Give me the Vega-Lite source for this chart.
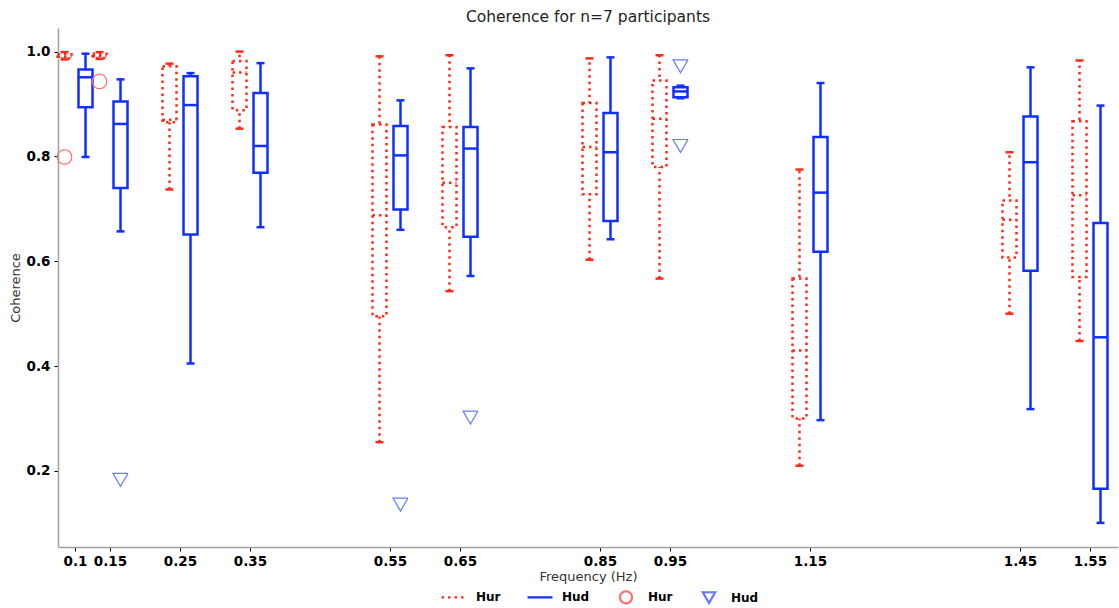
{
  "$schema": "https://vega.github.io/schema/vega-lite/v6.json",
  "width": 1060,
  "height": 519,
  "autosize": {"type": "none"},
  "padding": {"left": 58, "top": 28, "right": 1, "bottom": 61},
  "title": {"text": "Coherence for n=7 participants", "fontSize": 15.5, "font": "DejaVu Sans", "fontWeight": "normal", "color": "#222222", "offset": 3},
  "config": {
    "view": {"stroke": null},
    "font": "DejaVu Sans",
    "axisX": {"labelFontWeight": "bold", "labelFontSize": 13.5, "labelColor": "#000000", "tickColor": "#000000", "tickSize": 4, "domainColor": "#a0a0a0", "domainWidth": 1.5, "grid": false, "titleFontWeight": "normal", "titleFontSize": 13, "titleColor": "#333333", "labelPadding": 3, "titlePadding": 3, "labelOverlap": false, "labelFlush": false},
    "axisY": {"labelFontWeight": "bold", "labelFontSize": 13.5, "labelColor": "#000000", "tickColor": "#000000", "tickSize": 4, "domainColor": "#a0a0a0", "domainWidth": 1.5, "grid": false, "titleFontWeight": "normal", "titleFontSize": 13, "titleColor": "#333333", "labelPadding": 4, "titlePadding": 4, "labelOverlap": false, "labelFlush": false},
    "legend": {"orient": "none", "legendX": 382, "legendY": 555, "direction": "horizontal", "symbolSize": 625, "symbolStrokeWidth": 2.2, "labelFont": "DejaVu Sans", "labelFontWeight": "bold", "labelFontSize": 12, "labelColor": "#000000", "labelOffset": 8, "columnPadding": 22, "padding": 0, "title": null}
  },
  "datasets": {
    "boxes": [
      {"freq": 0.1, "group": "Hur", "lower": 0.985, "q1": 0.987, "median": 0.990, "q3": 0.995, "upper": 0.999},
      {"freq": 0.1, "group": "Hud", "lower": 0.799, "q1": 0.894, "median": 0.951, "q3": 0.966, "upper": 0.996},
      {"freq": 0.15, "group": "Hur", "lower": 0.986, "q1": 0.988, "median": 0.991, "q3": 0.996, "upper": 0.999},
      {"freq": 0.15, "group": "Hud", "lower": 0.657, "q1": 0.740, "median": 0.862, "q3": 0.905, "upper": 0.947},
      {"freq": 0.25, "group": "Hur", "lower": 0.737, "q1": 0.865, "median": 0.870, "q3": 0.972, "upper": 0.977},
      {"freq": 0.25, "group": "Hud", "lower": 0.405, "q1": 0.651, "median": 0.898, "q3": 0.953, "upper": 0.959},
      {"freq": 0.35, "group": "Hur", "lower": 0.853, "q1": 0.888, "median": 0.960, "q3": 0.982, "upper": 1.0},
      {"freq": 0.35, "group": "Hud", "lower": 0.665, "q1": 0.769, "median": 0.820, "q3": 0.921, "upper": 0.978},
      {"freq": 0.55, "group": "Hur", "lower": 0.255, "q1": 0.495, "median": 0.688, "q3": 0.861, "upper": 0.991},
      {"freq": 0.55, "group": "Hud", "lower": 0.660, "q1": 0.699, "median": 0.802, "q3": 0.858, "upper": 0.907},
      {"freq": 0.65, "group": "Hur", "lower": 0.543, "q1": 0.665, "median": 0.750, "q3": 0.856, "upper": 0.993},
      {"freq": 0.65, "group": "Hud", "lower": 0.572, "q1": 0.647, "median": 0.815, "q3": 0.856, "upper": 0.968},
      {"freq": 0.85, "group": "Hur", "lower": 0.603, "q1": 0.728, "median": 0.818, "q3": 0.902, "upper": 0.987},
      {"freq": 0.85, "group": "Hud", "lower": 0.642, "q1": 0.677, "median": 0.808, "q3": 0.883, "upper": 0.989},
      {"freq": 0.95, "group": "Hur", "lower": 0.567, "q1": 0.780, "median": 0.872, "q3": 0.945, "upper": 0.993},
      {"freq": 0.95, "group": "Hud", "lower": 0.911, "q1": 0.913, "median": 0.924, "q3": 0.932, "upper": 0.935},
      {"freq": 1.15, "group": "Hur", "lower": 0.210, "q1": 0.300, "median": 0.430, "q3": 0.567, "upper": 0.775},
      {"freq": 1.15, "group": "Hud", "lower": 0.297, "q1": 0.618, "median": 0.731, "q3": 0.837, "upper": 0.940},
      {"freq": 1.45, "group": "Hur", "lower": 0.500, "q1": 0.607, "median": 0.679, "q3": 0.716, "upper": 0.808},
      {"freq": 1.45, "group": "Hud", "lower": 0.318, "q1": 0.582, "median": 0.789, "q3": 0.876, "upper": 0.970},
      {"freq": 1.55, "group": "Hur", "lower": 0.448, "q1": 0.570, "median": 0.726, "q3": 0.867, "upper": 0.983},
      {"freq": 1.55, "group": "Hud", "lower": 0.101, "q1": 0.166, "median": 0.455, "q3": 0.673, "upper": 0.897}
    ],
    "outliers": [
      {"freq": 0.1, "group": "Hur", "key": "Hur marker", "value": 0.799},
      {"freq": 0.15, "group": "Hur", "key": "Hur marker", "value": 0.943},
      {"freq": 0.15, "group": "Hud", "key": "Hud marker", "value": 0.183},
      {"freq": 0.55, "group": "Hud", "key": "Hud marker", "value": 0.136},
      {"freq": 0.65, "group": "Hud", "key": "Hud marker", "value": 0.302},
      {"freq": 0.95, "group": "Hud", "key": "Hud marker", "value": 0.972},
      {"freq": 0.95, "group": "Hud", "key": "Hud marker", "value": 0.820}
    ]
  },
  "layer": [
    {
      "data": {"name": "boxes"},
      "transform": [{"filter": "datum.group === 'Hur'"}],
      "mark": {"type": "rule", "xOffset": -10.5, "color": "#ff2a1a", "strokeWidth": 2.5, "strokeDash": [2.5, 4]},
      "encoding": {
        "x": {"field": "freq", "type": "quantitative", "scale": {"domain": [0.0757, 1.59], "nice": false, "zero": false}, "axis": {"title": "Frequency (Hz)", "values": [0.1, 0.15, 0.25, 0.35, 0.55, 0.65, 0.85, 0.95, 1.15, 1.45, 1.55], "format": "~g"}},
        "y": {"field": "lower", "type": "quantitative", "scale": {"domain": [0.055, 1.045], "nice": false, "zero": false}, "axis": {"title": "Coherence", "values": [0.2, 0.4, 0.6, 0.8, 1.0], "format": ".1f"}},
        "y2": {"field": "upper"}
      }
    },
    {
      "data": {"name": "boxes"},
      "transform": [{"filter": "datum.group === 'Hur'"}],
      "mark": {"type": "rect", "xOffset": -17.5, "x2Offset": -3.5, "fill": "#ffffff", "stroke": "#ff2a1a", "strokeWidth": 2.5, "strokeDash": [2.5, 4]},
      "encoding": {"x": {"field": "freq", "type": "quantitative"}, "x2": {"field": "freq"}, "y": {"field": "q1", "type": "quantitative"}, "y2": {"field": "q3"}}
    },
    {
      "data": {"name": "boxes"},
      "transform": [{"filter": "datum.group === 'Hur'"}],
      "mark": {"type": "rule", "xOffset": -17.5, "x2Offset": -3.5, "color": "#ff2a1a", "strokeWidth": 2.5, "strokeDash": [2.5, 4]},
      "encoding": {"x": {"field": "freq", "type": "quantitative"}, "x2": {"field": "freq"}, "y": {"field": "median", "type": "quantitative"}}
    },
    {
      "data": {"name": "boxes"},
      "transform": [{"filter": "datum.group === 'Hur'"}],
      "mark": {"type": "rule", "xOffset": -14.5, "x2Offset": -6.5, "color": "#ff2a1a", "strokeWidth": 2.5},
      "encoding": {"x": {"field": "freq", "type": "quantitative"}, "x2": {"field": "freq"}, "y": {"field": "upper", "type": "quantitative"}}
    },
    {
      "data": {"name": "boxes"},
      "transform": [{"filter": "datum.group === 'Hur'"}],
      "mark": {"type": "rule", "xOffset": -14.5, "x2Offset": -6.5, "color": "#ff2a1a", "strokeWidth": 2.5},
      "encoding": {"x": {"field": "freq", "type": "quantitative"}, "x2": {"field": "freq"}, "y": {"field": "lower", "type": "quantitative"}}
    },
    {
      "data": {"name": "boxes"},
      "transform": [{"filter": "datum.group === 'Hud'"}],
      "mark": {"type": "rule", "xOffset": 10.5, "color": "#1030ff", "strokeWidth": 2.5},
      "encoding": {"x": {"field": "freq", "type": "quantitative"}, "y": {"field": "lower", "type": "quantitative"}, "y2": {"field": "upper"}}
    },
    {
      "data": {"name": "boxes"},
      "transform": [{"filter": "datum.group === 'Hud'"}],
      "mark": {"type": "rect", "xOffset": 3.5, "x2Offset": 17.5, "fill": "#ffffff", "stroke": "#1030ff", "strokeWidth": 2.5},
      "encoding": {"x": {"field": "freq", "type": "quantitative"}, "x2": {"field": "freq"}, "y": {"field": "q1", "type": "quantitative"}, "y2": {"field": "q3"}}
    },
    {
      "data": {"name": "boxes"},
      "transform": [{"filter": "datum.group === 'Hud'"}],
      "mark": {"type": "rule", "xOffset": 3.5, "x2Offset": 17.5, "color": "#1030ff", "strokeWidth": 2.5},
      "encoding": {"x": {"field": "freq", "type": "quantitative"}, "x2": {"field": "freq"}, "y": {"field": "median", "type": "quantitative"}}
    },
    {
      "data": {"name": "boxes"},
      "transform": [{"filter": "datum.group === 'Hud'"}],
      "mark": {"type": "rule", "xOffset": 6.5, "x2Offset": 14.5, "color": "#1030ff", "strokeWidth": 2.5},
      "encoding": {"x": {"field": "freq", "type": "quantitative"}, "x2": {"field": "freq"}, "y": {"field": "upper", "type": "quantitative"}}
    },
    {
      "data": {"name": "boxes"},
      "transform": [{"filter": "datum.group === 'Hud'"}],
      "mark": {"type": "rule", "xOffset": 6.5, "x2Offset": 14.5, "color": "#1030ff", "strokeWidth": 2.5},
      "encoding": {"x": {"field": "freq", "type": "quantitative"}, "x2": {"field": "freq"}, "y": {"field": "lower", "type": "quantitative"}}
    },
    {
      "data": {"name": "outliers"},
      "transform": [{"filter": "datum.group === 'Hur'"}],
      "mark": {"type": "point", "filled": false, "size": 900, "xOffset": -10.5, "strokeWidth": 1.2, "opacity": 1},
      "encoding": {
        "x": {"field": "freq", "type": "quantitative"},
        "y": {"field": "value", "type": "quantitative"},
        "stroke": {"field": "key", "type": "nominal", "scale": {"domain": ["Hur line", "Hud line", "Hur marker", "Hud marker"], "range": ["#ff2a1a", "#1030ff", "#ff7070", "#6678ff"]}, "legend": {"labelExpr": "split(datum.label, ' ')[0]"}},
        "shape": {"field": "key", "type": "nominal", "scale": {"domain": ["Hur line", "Hud line", "Hur marker", "Hud marker"], "range": ["M-1,0L1,0M0,-0.48M0,0.48", "M-1,0L1,0M0,-0.48M0,0.48", "M-0.48,0A0.48,0.48,0,1,1,0.48,0A0.48,0.48,0,1,1,-0.48,0Z", "M-0.5,-0.43L0.5,-0.43L0,0.43Z"]}, "legend": {"labelExpr": "split(datum.label, ' ')[0]"}},
        "strokeDash": {"field": "key", "type": "nominal", "scale": {"domain": ["Hur line", "Hud line", "Hur marker", "Hud marker"], "range": [[2.5, 4], [1, 0], [1, 0], [1, 0]]}, "legend": {"labelExpr": "split(datum.label, ' ')[0]"}}
      }
    },
    {
      "data": {"name": "outliers"},
      "transform": [{"filter": "datum.group === 'Hud'"}],
      "mark": {"type": "point", "filled": false, "size": 900, "xOffset": 10.5, "strokeWidth": 1.2, "opacity": 1},
      "encoding": {
        "x": {"field": "freq", "type": "quantitative"},
        "y": {"field": "value", "type": "quantitative"},
        "stroke": {"field": "key", "type": "nominal"},
        "shape": {"field": "key", "type": "nominal"},
        "strokeDash": {"field": "key", "type": "nominal"}
      }
    }
  ]
}
